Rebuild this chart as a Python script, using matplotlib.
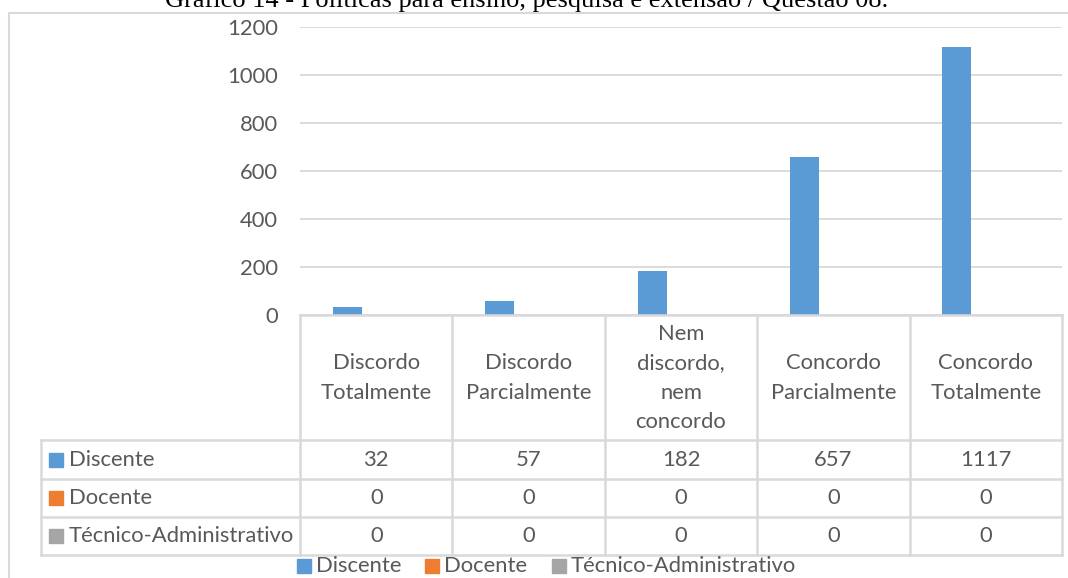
import matplotlib.pyplot as plt
from matplotlib.patches import Rectangle

# Data
categorias = ["Discordo\nTotalmente", "Discordo\nParcialmente", "Nem\ndiscordo,\nnem\nconcordo",
              "Concordo\nParcialmente", "Concordo\nTotalmente"]
series = ["Discente", "Docente", "Técnico-Administrativo"]
discente = [32, 57, 182, 657, 1117]
docente = [0, 0, 0, 0, 0]
tecnico = [0, 0, 0, 0, 0]
valores = [discente, docente, tecnico]
cores = ["#5B9BD5", "#ED7D31", "#A5A5A5"]
titulo = "Gráfico 14 - Políticas para ensino, pesquisa e extensão / Questão 08."

plt.rcParams['font.family'] = ['Lato', 'DejaVu Sans']
txt = "#595959"
linha = "#D9D9D9"
fs = 15.8

W, H = 1068, 578
fig = plt.figure(figsize=(W / 100, H / 100), dpi=100)

# pixel helpers (origin at top-left)
x0, x1, ytop, ybot = 300, 1062, 27, 315
ax = fig.add_axes([x0 / W, 1 - ybot / H, (x1 - x0) / W, (ybot - ytop) / H])

n = len(categorias)
w = 0.19
for i, (vals, cor) in enumerate(zip(valores, cores)):
    ax.bar([k + (i - 1) * w for k in range(n)], vals, width=w, color=cor, zorder=3)

ax.set_xlim(-0.5, n - 0.5)
ax.set_ylim(0, 1200)
ax.set_yticks(range(0, 1201, 200))
ax.yaxis.grid(True, color=linha, linewidth=1.3, zorder=0)
ax.set_xticks([])
for s in ax.spines.values():
    s.set_visible(False)
ax.tick_params(axis='y', length=0, pad=16, labelsize=fs, labelcolor=txt)

# overlay axes in pixel coordinates for frame, title, data table and legend
ov = fig.add_axes([0, 0, 1, 1], zorder=-1)
ov.set_xlim(0, W)
ov.set_ylim(H, 0)
ov.axis('off')
ov2 = fig.add_axes([0, 0, 1, 1])
ov2.set_xlim(0, W)
ov2.set_ylim(H, 0)
ov2.axis('off')

# chart frame
ov.plot([9, 9, W], [H, 13, 13], color=linha, linewidth=1.5)

ov2.text(527, 7, titulo, ha='center', va='baseline', fontsize=19,
         family=['Liberation Serif', 'DejaVu Serif'], color='black')

# table grid
cols = [x0 + (x1 - x0) * k / n for k in range(n + 1)]
rows = [ybot, 440, 479, 517, 555]
lw = 1.8
ov2.plot([x0, x1], [ybot, ybot], color=linha, lw=lw)
for r in rows[1:]:
    ov2.plot([41, x1], [r, r], color=linha, lw=lw)
for c in cols:
    ov2.plot([c, c], [ybot, rows[-1]], color=linha, lw=lw)
ov2.plot([41, 41], [rows[1], rows[-1]], color=linha, lw=lw)

for k, cat in enumerate(categorias):
    cx = (cols[k] + cols[k + 1]) / 2
    ov2.text(cx, 378, cat, ha='center', va='center', fontsize=fs, color=txt, linespacing=1.6)
    for j in range(3):
        ry = (rows[j + 1] + rows[j + 2]) / 2
        ov2.text(cx, ry, str(valores[j][k]), ha='center', va='center', fontsize=fs, color=txt)

for j, (nome, cor) in enumerate(zip(series, cores)):
    ry = (rows[j + 1] + rows[j + 2]) / 2
    ov2.add_patch(Rectangle((49, ry - 7), 14, 14, color=cor))
    ov2.text(69, ry, nome, ha='left', va='center', fontsize=fs, color=txt)

# legend
leg_x = [297, 425, 552]
for nome, cor, lx in zip(series, cores, leg_x):
    ov2.add_patch(Rectangle((lx, 559), 14, 14, color=cor))
    ov2.text(lx + 19, 566, nome, ha='left', va='center', fontsize=fs, color=txt)

fig.savefig("out.png", dpi=100)
